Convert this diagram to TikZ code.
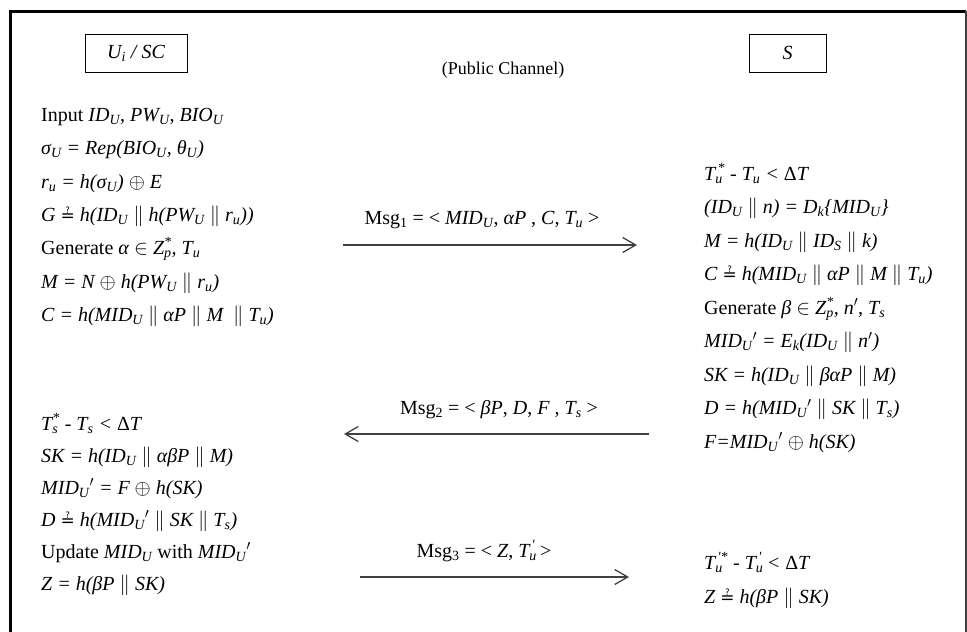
\documentclass[tikz,border=0pt]{standalone}
\usepackage{fontspec}
\setmainfont{Liberation Serif}
\newfontfamily\symf{DejaVu Sans}
\usetikzlibrary{arrows.meta}
\newcommand{\sbx}[1]{\textsubscript{#1}}
\newcommand{\ssp}[2]{\rlap{\textsubscript{#1}}\textsuperscript{#2}}
\newcommand{\cat}{$\|$}
\newcommand{\qeq}{{\upshape\symf\fontsize{17}{20}\selectfont ≟}}
\newcommand{\xor}{$\oplus$}
\newcommand{\inn}{$\in$}
\newcommand{\pr}{$'$}
\newcommand{\sq}{\textquotesingle}
\begin{document}
\begin{tikzpicture}[x=1pt,y=-1pt,
  txt/.style={anchor=mid west, inner sep=0pt, font=\fontsize{20}{24}\selectfont},
  lbl/.style={anchor=mid, inner sep=0pt, font=\fontsize{20}{24}\selectfont},
  entity/.style={draw, line width=1pt, minimum width=102pt, minimum height=38pt, inner sep=0pt, font=\fontsize{20}{24}\selectfont\itshape},
  msg/.style={draw=black!75, line width=1.3pt, -{Straight Barb[length=13pt,width=15pt,line width=1.3pt]}}
]
\useasboundingbox (0,0) rectangle (967,632);
% frame
\draw[line width=3pt] (10,632) -- (10,11) -- (966,11);
\draw[line width=1.5pt, black!75] (966,11) -- (966,632);

% entities
\node[entity] (ui) at (136,53) {U\sbx{i} / SC};
\node[entity, minimum width=77pt] (s) at (787.5,53) {S};
\node[lbl, font=\fontsize{18}{22}\selectfont] (pub) at (503,72) {(Public Channel)};

% left top block
\node[txt] (l1) at (41,119) {Input \textit{ID\sbx{U}}, \textit{PW\sbx{U}}, \textit{BIO\sbx{U}}};
\node[txt] (l2) at (41,152) {\itshape σ\sbx{U} = Rep(BIO\sbx{U}, θ\sbx{U})};
\node[txt] (l3) at (41,186) {\itshape r\sbx{u} = h(σ\sbx{U}) \xor{} E};
\node[txt] (l4) at (41,219) {\itshape G \qeq{} h(ID\sbx{U} \cat{} h(PW\sbx{U} \cat{} r\sbx{u}))};
\node[txt] (l5) at (41,252) {Generate \textit{α} \inn{} \textit{Z\ssp{p}{*}, T\sbx{u}}};
\node[txt] (l6) at (41,286) {\itshape M = N \xor{} h(PW\sbx{U} \cat{} r\sbx{u})};
\node[txt] (l7) at (41,319) {\itshape C = h(MID\sbx{U} \cat{} αP \cat{} M \ \cat{} T\sbx{u})};

% right block
\node[txt] (r1) at (704,178) {\itshape T\ssp{u}{\,*} - T\sbx{u} < \textup{Δ}T};
\node[txt] (r2) at (704,211.5) {\itshape (ID\sbx{U} \cat{} n) = D\sbx{k}\{MID\sbx{U}\}};
\node[txt] (r3) at (704,245) {\itshape M = h(ID\sbx{U} \cat{} ID\sbx{S} \cat{} k)};
\node[txt] (r4) at (704,278.5) {\itshape C \qeq{} h(MID\sbx{U} \cat{} αP \cat{} M \cat{} T\sbx{u})};
\node[txt] (r5) at (704,312) {Generate \textit{β} \inn{} \textit{Z\ssp{p}{*}, n\pr, T\sbx{s}}};
\node[txt] (r6) at (704,345.5) {\itshape MID\sbx{U}\pr{} = E\sbx{k}(ID\sbx{U} \cat{} n\pr)};
\node[txt] (r7) at (704,379) {\itshape SK = h(ID\sbx{U} \cat{} βαP \cat{} M)};
\node[txt] (r8) at (704,412.5) {\itshape D = h(MID\sbx{U}\pr{} \cat{} SK \cat{} T\sbx{s})};
\node[txt] (r9) at (704,446) {\itshape F=MID\sbx{U}\pr{} \xor{} h(SK)};

% left bottom block
\node[txt] (b1) at (41,428) {\itshape T\ssp{s}{*} - T\sbx{s} < \textup{Δ}T};
\node[txt] (b2) at (41,460) {\itshape SK = h(ID\sbx{U} \cat{} αβP \cat{} M)};
\node[txt] (b3) at (41,492) {\itshape MID\sbx{U}\pr{} = F \xor{} h(SK)};
\node[txt] (b4) at (41,524) {\itshape D \qeq{} h(MID\sbx{U}\pr{} \cat{} SK \cat{} T\sbx{s})};
\node[txt] (b5) at (41,556) {Update \textit{MID\sbx{U}} with \textit{MID\sbx{U}\pr}};
\node[txt] (b6) at (41,588) {\itshape Z = h(βP \cat{} SK)};

% right bottom block
\node[txt] (q1) at (704,567) {\itshape T\ssp{u}{\,\sq*} - T\ssp{u}{\,\sq} < \textup{Δ}T};
\node[txt] (q2) at (704,601) {\itshape Z \qeq{} h(βP \cat{} SK)};

% messages
\coordinate (m1a) at (343,245);
\coordinate (m1b) at (637,245);
\draw[msg] (m1a) -- (m1b);
\node[lbl] (m1) at (482,222) {Msg\sbx{1} = < \textit{MID\sbx{U}}, \textit{αP} , \textit{C}, \textit{T\sbx{u}} >};

\coordinate (m2a) at (649,434);
\coordinate (m2b) at (344,434);
\draw[msg] (m2a) -- (m2b);
\node[lbl] (m2) at (499,412) {Msg\sbx{2} = < \textit{βP}, \textit{D}, \textit{F} , \textit{T\sbx{s}} >};

\coordinate (m3a) at (360,577);
\coordinate (m3b) at (629,577);
\draw[msg] (m3a) -- (m3b);
\node[lbl] (m3) at (484,555) {Msg\sbx{3} = < \textit{Z}, \textit{T\ssp{u}{\,\sq}} >};
\end{tikzpicture}
\end{document}
